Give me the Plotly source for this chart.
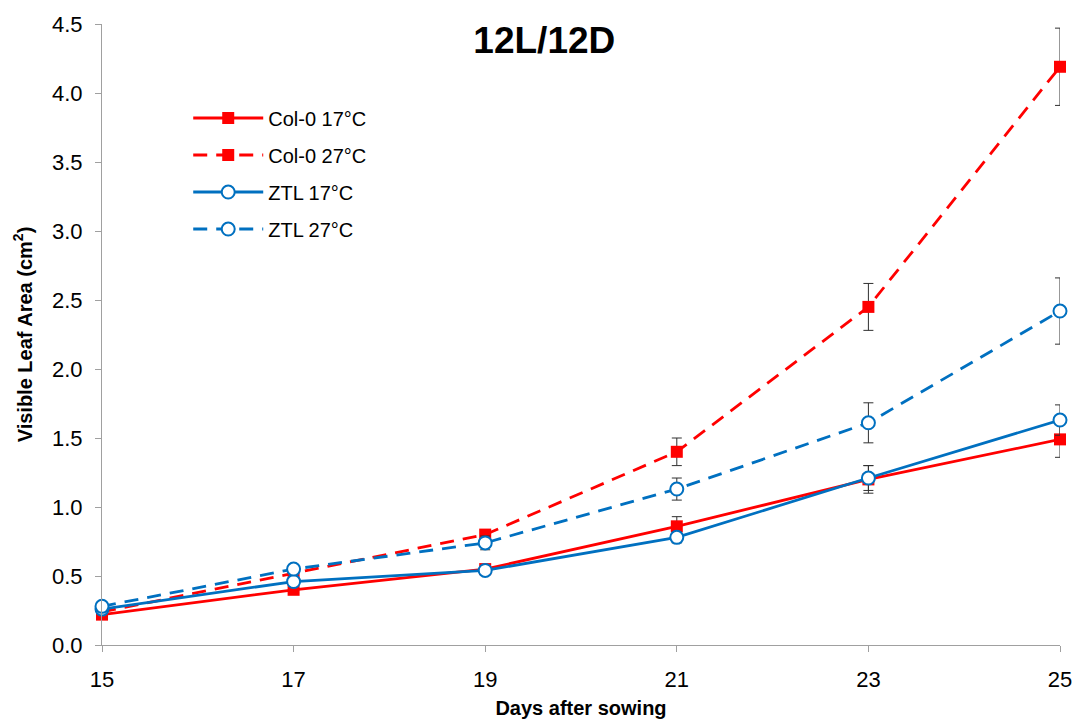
import plotly.graph_objects as go

days = [15, 17, 19, 21, 23, 25]
col0_17 = [0.22, 0.40, 0.55, 0.86, 1.20, 1.49]
col0_17_err = [0.02, 0.02, 0.03, 0.07, 0.10, 0.13]
col0_27 = [0.24, 0.52, 0.80, 1.40, 2.45, 4.19]
col0_27_err = [0.02, 0.03, 0.03, 0.10, 0.17, 0.28]
ztl_17 = [0.26, 0.46, 0.54, 0.78, 1.21, 1.63]
ztl_17_err = [0.02, 0.02, 0.03, 0.04, 0.09, 0.11]
ztl_27 = [0.28, 0.55, 0.74, 1.13, 1.61, 2.42]
ztl_27_err = [0.02, 0.03, 0.05, 0.08, 0.145, 0.24]

RED = "#FF0000"
BLUE = "#0070C0"
FONT = "Liberation Sans, Arial, sans-serif"

fig = go.Figure()

def add(name, y, err, color, dash, symbol):
    filled = symbol == "square"
    fig.add_trace(go.Scatter(
        x=days, y=y, name=name, mode="lines+markers", legendgroup=name,
        line=dict(color=color, width=2.8, dash=dash),
        marker=dict(symbol=symbol, size=12 if filled else 13,
                    color=color if filled else "white",
                    line=dict(color=color, width=0 if filled else 2)),
        error_y=dict(type="data", array=err, visible=True,
                     color="#303030", thickness=1, width=5),
        cliponaxis=False,
    ))

DASH = "14px,9px"
add("Col-0 17°C", col0_17, col0_17_err, RED, "solid", "square")
add("Col-0 27°C", col0_27, col0_27_err, RED, DASH, "square")
add("ZTL 17°C", ztl_17, ztl_17_err, BLUE, "solid", "circle")
add("ZTL 27°C", ztl_27, ztl_27_err, BLUE, DASH, "circle")

fig.update_layout(
    width=1080, height=720,
    paper_bgcolor="white", plot_bgcolor="white",
    margin=dict(l=102, r=20, t=24, b=75),
    font=dict(family=FONT, size=22, color="black"),
    title=dict(text="<b>12L/12D</b>", x=0.504, xanchor="center",
               y=0.945, yanchor="middle", font=dict(size=37, family=FONT)),
    legend=dict(x=0.09, y=0.88, xanchor="left", yanchor="top",
                bgcolor="rgba(0,0,0,0)", font=dict(size=20),
                tracegroupgap=8, itemwidth=70),
    xaxis=dict(range=[15, 25], tickvals=days, showgrid=False, zeroline=False,
               showline=True, linecolor="#A0A0A0", linewidth=1,
               ticks="outside", tickcolor="#A0A0A0", ticklen=6,
               ticklabelstandoff=9, automargin=False,
               title=dict(text="<b>Days after sowing</b>", standoff=9,
                          font=dict(size=20))),
    yaxis=dict(range=[0, 4.5], dtick=0.5, tickformat=".1f", showgrid=False,
               zeroline=False, showline=True, linecolor="#A0A0A0", linewidth=1,
               ticks="outside", tickcolor="#A0A0A0", ticklen=6,
               ticklabelstandoff=8, automargin=False,
               title=dict(text="<b>Visible Leaf Area (cm<sup>2</sup>)</b>",
                          standoff=14, font=dict(size=20))),
)

fig.write_html("out.html")
